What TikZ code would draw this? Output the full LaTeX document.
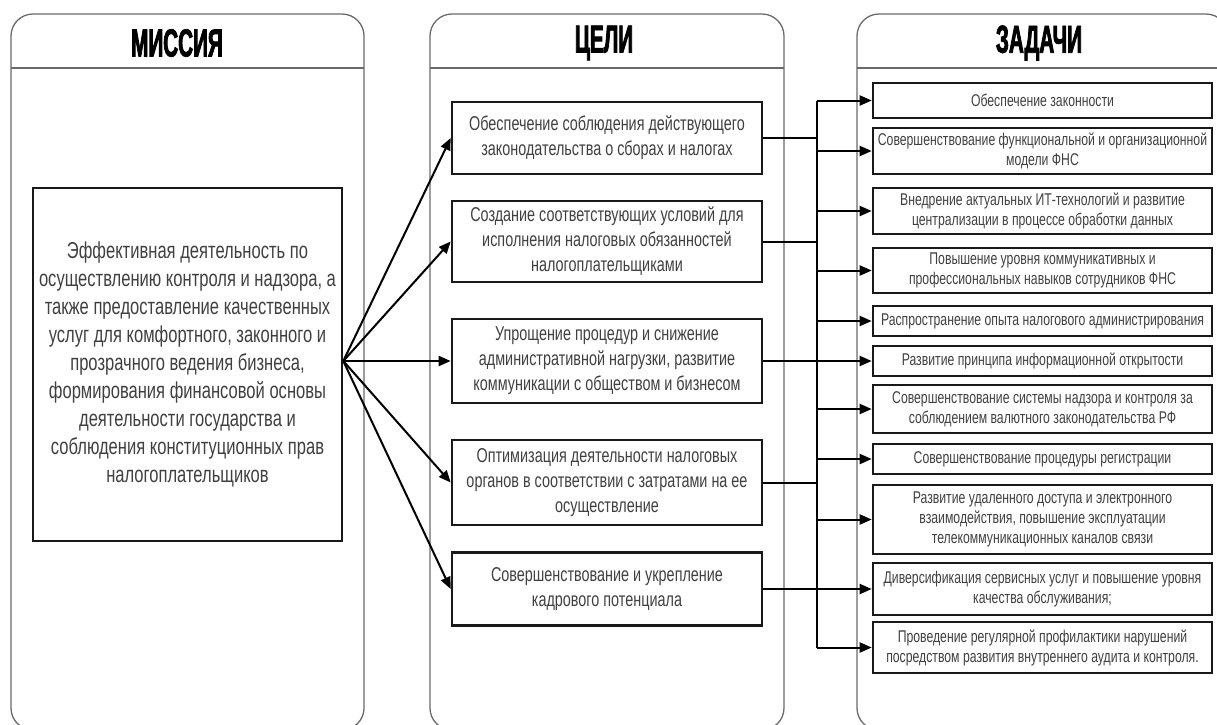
\documentclass[tikz,border=0pt]{standalone}
\usepackage{fontspec}
\setmainfont[FakeStretch=0.72]{Liberation Sans}
\newfontfamily\headfont[FakeStretch=0.53,FakeBold=2]{Liberation Sans}
\usetikzlibrary{arrows.meta}
\definecolor{txt}{HTML}{404040}
\definecolor{lane}{HTML}{6A6A6A}
\begin{document}
\begin{tikzpicture}[x=1pt,y=-1pt,
  lanebox/.style={draw=lane,line width=1.3pt,rounded corners=22pt},
  lanerule/.style={draw=lane,line width=1.3pt},
  lanehead/.style={font=\headfont\bfseries\fontsize{39}{39}\selectfont,text=black,inner sep=0pt},
  missionbox/.style={draw=black!90,line width=2.6pt,minimum width=309pt,minimum height=353pt,
    align=center,inner sep=0pt,text=txt,font=\fontsize{23}{28}\selectfont},
  goalbox/.style={draw=black!90,line width=2.6pt,minimum width=310pt,minimum height=#1,
    align=center,inner sep=0pt,text=txt,font=\fontsize{20}{25}\selectfont},
  taskbox/.style={draw=black!90,line width=2.6pt,minimum width=339pt,minimum height=#1,
    align=center,inner sep=0pt,text=txt,font=\fontsize{17}{20}\selectfont},
  link/.style={draw=black,line width=2pt},
  arr/.style={link,-{Triangle[length=12pt,width=10pt]}}]
\useasboundingbox (0,0) rectangle (1217,724);

% three lanes with their header rules
\draw[lanebox] (11,14) rectangle (364,730);
\draw[lanebox] (430,14) rectangle (784,730);
\draw[lanebox] (857,14) rectangle (1228,730);
\draw[lanerule] (11,68) -- (364,68);
\draw[lanerule] (430,68) -- (784,68);
\draw[lanerule] (857,68) -- (1228,68);

\node[lanehead] (hm) at (177,43) {МИССИЯ};
\node[lanehead] (hg) at (604,43) {ЦЕЛИ};
\node[lanehead] (ht) at (1039,43) {ЗАДАЧИ};

% mission
\node[missionbox] (mission) at (187.5,364.5) {Эффективная деятельность по\\осуществлению контроля и надзора, а\\также предоставление качественных\\услуг для комфортного, законного и\\прозрачного ведения бизнеса,\\формирования финансовой основы\\деятельности государства и\\соблюдения конституционных прав\\налогоплательщиков};

% goals
\node[goalbox=72pt] (g1) at (607,138) {Обеспечение соблюдения действующего\\законодательства о сборах и налогах};
\node[goalbox=81pt] (g2) at (607,241.5) {Создание соответствующих условий для\\исполнения налоговых обязанностей\\налогоплательщиками};
\node[goalbox=84pt] (g3) at (607,361) {Упрощение процедур и снижение\\административной нагрузки, развитие\\коммуникации с обществом и бизнесом};
\node[goalbox=85pt] (g4) at (607,482.5) {Оптимизация деятельности налоговых\\органов в соответствии с затратами на ее\\осуществление};
\node[goalbox=73pt] (g5) at (607,589) {Совершенствование и укрепление\\кадрового потенциала};

% tasks
\node[taskbox=35pt] (t1) at (1042.5,100.5) {Обеспечение законности};
\node[taskbox=46pt] (t2) at (1042.5,151) {Совершенствование функциональной и организационной\\модели ФНС};
\node[taskbox=46pt] (t3) at (1042.5,211) {Внедрение актуальных ИТ-технологий и развитие\\централизации в процессе обработки данных};
\node[taskbox=45pt] (t4) at (1042.5,270.5) {Повышение уровня коммуникативных и\\профессиональных навыков сотрудников ФНС};
\node[taskbox=30pt] (t5) at (1042.5,321) {Распространение опыта налогового администрирования};
\node[taskbox=30pt] (t6) at (1042.5,361) {Развитие принципа информационной открытости};
\node[taskbox=48pt] (t7) at (1042.5,409) {Совершенствование системы надзора и контроля за\\соблюдением валютного законодательства РФ};
\node[taskbox=30pt] (t8) at (1042.5,459) {Совершенствование процедуры регистрации};
\node[taskbox=69pt] (t9) at (1042.5,519.5) {Развитие удаленного доступа и электронного\\взаимодействия, повышение эксплуатации\\телекоммуникационных каналов связи};
\node[taskbox=52pt] (t10) at (1042.5,589) {Диверсификация сервисных услуг и повышение уровня\\качества обслуживания;};
\node[taskbox=51pt] (t11) at (1042.5,647.5) {Проведение регулярной профилактики нарушений\\посредством развития внутреннего аудита и контроля.};

% mission fans out to every goal
\coordinate (mo) at (mission.east |- g3.west);
\foreach \g in {g1,g2,g3,g4,g5} \draw[arr] (mo) -- (\g.west);

% goals feed the vertical bus, the bus feeds the tasks
\coordinate (bus) at (817,0);
\draw[link] (t1.west -| bus) -- (t11.west -| bus);
\foreach \g in {g1,g2,g4} \draw[link] (\g.east) -- (\g.east -| bus);
\draw[arr] (g3.east) -- (t6.west);
\draw[arr] (g5.east) -- (t10.west);
\foreach \t in {t1,t2,t3,t4,t5,t7,t8,t9,t11} \draw[arr] (\t.west -| bus) -- (\t.west);
\end{tikzpicture}
\end{document}
